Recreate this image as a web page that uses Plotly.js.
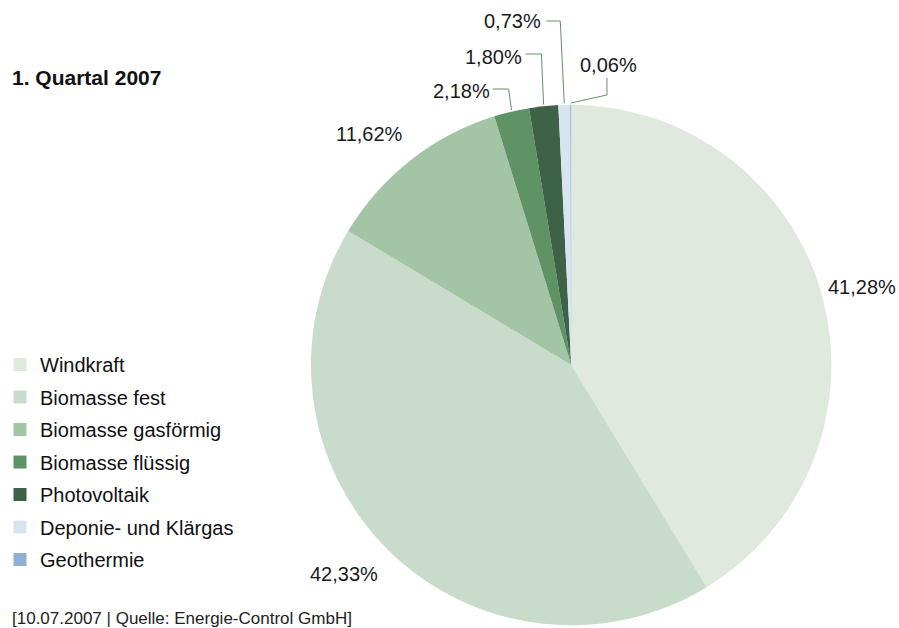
<!DOCTYPE html>
<html>
<head>
<meta charset="utf-8">
<script src="https://cdn.plot.ly/plotly-3.0.1.min.js"></script>
<style>body{margin:0}#myDiv{width:899px;height:628px}</style>
</head>
<body>
<div id="myDiv"></div>
<script>
// Anteile erneuerbare Energie, 1. Quartal 2007
const sources = ['Windkraft', 'Biomasse fest', 'Biomasse gasförmig', 'Biomasse flüssig', 'Photovoltaik', 'Deponie- und Klärgas', 'Geothermie']
const shares  = [41.28, 42.33, 11.62, 2.18, 1.80, 0.73, 0.06]
const colors  = ['#dfe9de', '#c9dccb', '#a4c4a6', '#5f9365', '#3e6245', '#d9e4f1', '#8eb0d3']

const W = 899, H = 628
const FONT = 'Liberation Sans, Arial, sans-serif'

// Kreis: Mittelpunkt und Radius in Pixel
const cx = 569, cy = 365, r = 262

// Beschriftung: [Ankerpunkt x, y, Ausrichtung] und Knickpunkte der Führungslinie
const labelPos = [
	[898, 287, 'right', null],
	[304, 574, 'left',  null],
	[330, 134, 'left',  null],
	[489, 91,  'right', [[490, 89], [506, 89]]],
	[521, 57,  'right', [[523, 54], [539, 54]]],
	[541, 21,  'right', [[544, 21], [558, 21]]],
	[576, 65,  'left',  [[605, 78], [605, 95]]]
]

const px = x => x / W
const py = y => 1 - y / H

const pie = {
	type: 'pie',
	labels: sources,
	values: shares,
	sort: false,
	direction: 'clockwise',
	rotation: 0,
	marker: {colors: colors, line: {width: 0}},
	textinfo: 'none',
	hoverinfo: 'none',
	showlegend: false,
	domain: {x: [(cx - r) / W, (cx + r) / W], y: [py(cy + r), py(cy - r)]}
}

// Legende als eigene Einträge (für den Zeilenabstand)
const legendTraces = sources.map((s, i) => ({
	type: 'scatter', mode: 'markers', x: [null], y: [null],
	name: s, legendgroup: 'g' + i,
	marker: {symbol: 'square', size: 13, color: colors[i]},
	hoverinfo: 'none'
}))

const annotations = []
const shapes = []
let cum = 0
for(let i = 0; i < shares.length; i++) {
	const mid = (cum + shares[i] / 2) / 100
	cum += shares[i]
	const lp = labelPos[i]
	annotations.push({
		text: shares[i].toFixed(2).replace('.', ',') + '%',
		x: px(lp[0]), y: py(lp[1]), xref: 'paper', yref: 'paper',
		xanchor: lp[2], yanchor: 'middle', showarrow: false,
		font: {family: FONT, size: 20, color: '#1a1a1a'}
	})
	if(lp[3]) {
		const ex = cx + r * Math.sin(2 * Math.PI * mid)
		const ey = cy - r * Math.cos(2 * Math.PI * mid)
		const pts = lp[3].concat([[ex, ey]])
		const path = pts.map((p, k) => (k ? 'L' : 'M') + px(p[0]) + ',' + py(p[1])).join(' ')
		shapes.push({type: 'path', xref: 'paper', yref: 'paper', path: path, line: {color: '#5f9365', width: 1}})
	}
}

annotations.push(
	{text: '<b>1. Quartal 2007</b>', x: px(4), y: py(78), xref: 'paper', yref: 'paper', xanchor: 'left', yanchor: 'middle', showarrow: false, font: {family: FONT, size: 21, color: '#111'}},
	{text: '[10.07.2007 | Quelle: Energie-Control GmbH]', x: px(4), y: py(618), xref: 'paper', yref: 'paper', xanchor: 'left', yanchor: 'middle', showarrow: false, font: {family: FONT, size: 17, color: '#222'}}
)

const layout = {
	width: W,
	height: H,
	margin: {l: 0, r: 0, t: 0, b: 0},
	font: {family: FONT, size: 20, color: '#111'},
	paper_bgcolor: '#fff',
	plot_bgcolor: 'rgba(0,0,0,0)',
	xaxis: {visible: false},
	yaxis: {visible: false},
	showlegend: true,
	legend: {x: -0.007, y: 0.4506, xanchor: 'left', yanchor: 'top', font: {family: FONT, size: 20, color: '#111'}, traceorder: 'grouped', tracegroupgap: 3.5, bgcolor: 'rgba(0,0,0,0)'},
	annotations: annotations,
	shapes: shapes
}

Plotly.newPlot('myDiv', [pie].concat(legendTraces), layout, {displayModeBar: false, staticPlot: true})
</script>
</body>
</html>
